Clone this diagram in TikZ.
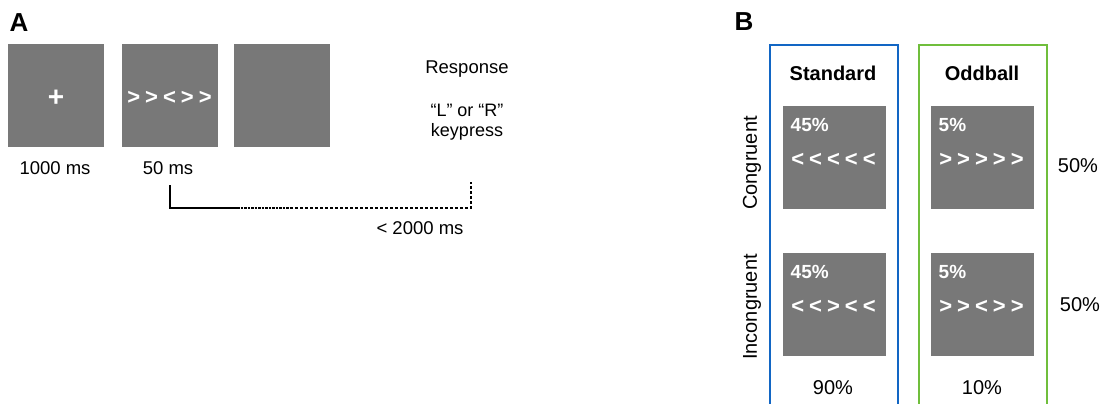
\documentclass[tikz,border=0pt]{standalone}
\usepackage{fontspec}
\setmainfont{Liberation Sans}
\usetikzlibrary{positioning}
\definecolor{stdblue}{RGB}{18,102,196}
\definecolor{oddgreen}{RGB}{112,190,60}
\definecolor{screengray}{RGB}{120,120,120}
\newcommand{\arrowgap}{\spaceskip=5pt\relax}

\begin{document}
\begin{tikzpicture}[x=1pt, y=-1pt, font=\fontsize{18.5}{22}\selectfont,
    screen/.style={fill=screengray, minimum width=96pt, minimum height=103pt, inner sep=0pt},
    cell/.style={fill=screengray, minimum width=103pt, minimum height=103pt, inner sep=0pt},
    stim/.style={text=white, inner sep=0pt, font={\fontsize{19}{22}\selectfont\bfseries}},
    flankers/.style={text=white, inner sep=0pt, font={\fontsize{22}{24}\selectfont\bfseries\arrowgap}},
    panel/.style={font=\fontsize{26}{28}\selectfont\bfseries},
    big/.style={font=\fontsize{20}{24}\selectfont}]
    \useasboundingbox (0,0) rectangle (1104,404);

    % panel A: trial sequence
    \node[panel] (lblA) at (19,23) {A};
    \node[screen] (fix) at (56,95.5) {};
    \node[screen] (flank) at (169.5,95.5) {};
    \node[screen] (blank) at (282,95.5) {};
    \node[stim, font=\fontsize{28}{28}\selectfont\bfseries] (plus) at (56,98) {+};
    \node[flankers] (arrA) at (169.5,98) {> > < > >};
    \node (t1000) at (55,168) {1000 ms};
    \node (t50) at (168,168) {50 ms};
    \node (resp) at (467,69) {Response};
    \node[align=center, font=\fontsize{18}{20}\selectfont] (keys) at (467,122) {“L” or “R”\\keypress};

    % response window
    \coordinate (brS) at (170,185);
    \coordinate (brC) at (170,208);
    \coordinate (brM) at (237,208);
    \coordinate (brD) at (290,208);
    \coordinate (brE) at (471,208);
    \coordinate (brT) at (471,182);
    \draw[line width=1.3pt] (brS) -- (brC) -- (brM);
    \draw[line width=1.3pt, dash pattern=on 2.5pt off 1pt] (brM) -- (brD);
    \draw[line width=1.2pt, dash pattern=on 3pt off 2pt] (brD) -- (brE) -- (brT);
    \node (t2000) at (420,228) {< 2000 ms};

    % panel B: design
    \node[panel] (lblB) at (744,22) {B};
    \draw[stdblue, line width=2.5pt] (770,406) -- (770,45) -- (898,45) -- (898,406);
    \draw[oddgreen, line width=2.5pt] (919,406) -- (919,45) -- (1047,45) -- (1047,406);
    \node[font=\fontsize{20}{24}\selectfont\bfseries] (std) at (833,73) {Standard};
    \node[font=\fontsize{20}{24}\selectfont\bfseries] (odd) at (982,73) {Oddball};
    \foreach \nm/\cx/\cy/\pct/\arr in {sc/834.5/157.5/45/< < < < <, si/834.5/304.5/45/< < > < <,
        oc/982.5/157.5/5/> > > > >, oi/982.5/304.5/5/> > < > >} {
      \node[cell] (cell-\nm) at (\cx,\cy) {};
      \node[stim, anchor=west] (pct-\nm) at (\cx-44,\cy-33) {\pct\%};
      \node[flankers] (arr-\nm) at (\cx-1,\cy+2.5) {\arr};
    }
    \node[big, rotate=90] (cong) at (752,163) {Congruent};
    \node[big, rotate=90] (incong) at (752,307) {Incongruent};
    \node[big] (rowC) at (1078,166) {50\%};
    \node[big] (rowI) at (1080,305) {50\%};
    \node[big] (colS) at (833,388) {90\%};
    \node[big] (colO) at (982,388) {10\%};
\end{tikzpicture}
\end{document}
